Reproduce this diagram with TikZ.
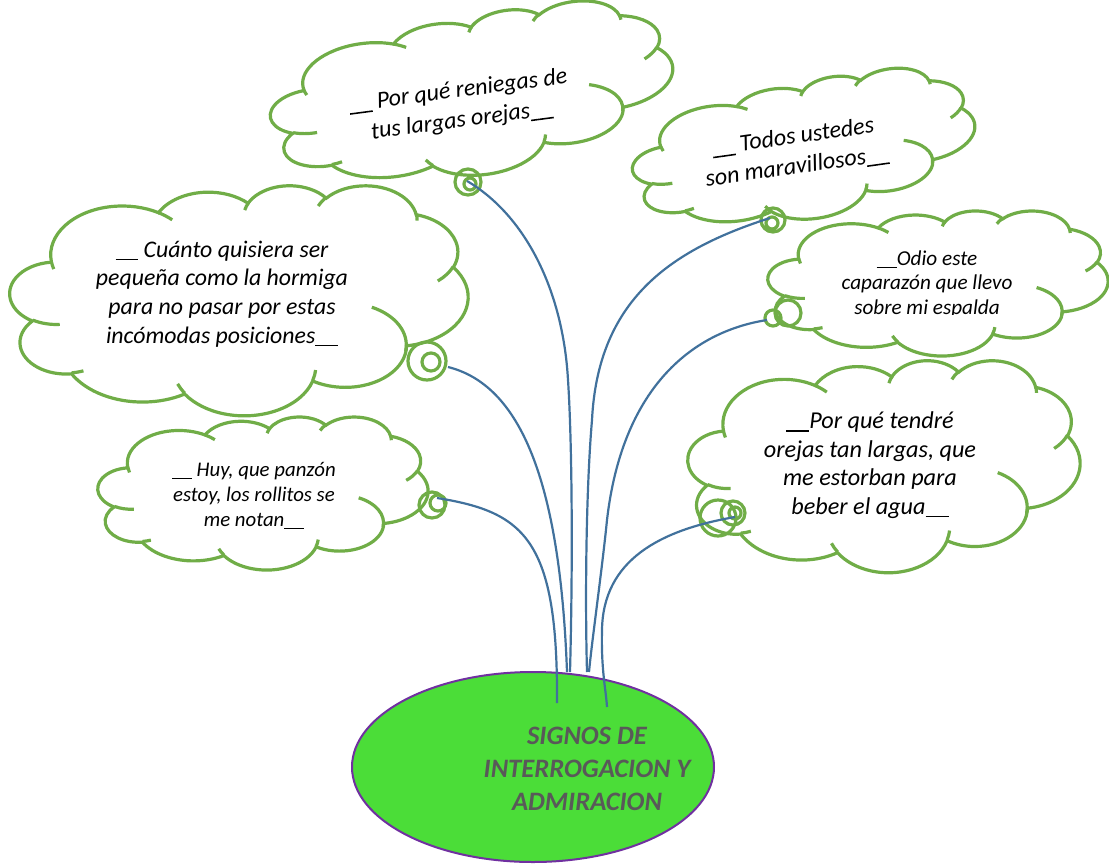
\documentclass[tikz,border=0pt]{standalone}
\usepackage{fontspec}
\setmainfont{Carlito}
\usetikzlibrary{shapes.geometric}
\definecolor{leafgreen}{RGB}{112,173,71}
\definecolor{twigblue}{RGB}{65,113,156}
\definecolor{topicgreen}{RGB}{75,221,56}
\definecolor{topicrim}{RGB}{112,48,160}
\definecolor{topicgray}{RGB}{89,89,89}

% angle on the ellipse -> arc parameter
\newcommand\pang[3]{(atan2((#1)*sin(#3),(#2)*cos(#3))+360*round(((#3)-atan2((#1)*sin(#3),(#2)*cos(#3)))/360))}
\newcommand\carc[4]{arc[x radius=#1,y radius=#2,start angle={\pang{#1}{#2}{#3}},end angle={\pang{#1}{#2}{(#3)+(#4)}}]}
\newcommand\guion{\rule[-0.13em]{0.95em}{0.065em}}

\tikzset{
  cloudline/.style={leafgreen,line width=1.6pt},
  twig/.style={twigblue,line width=1.1pt},
  saytext/.style={align=center,inner sep=0pt},
  pics/wordcloud/.style={code={
    \begin{scope}[yscale=-1,shift={(-21.6,-21.6)}]
      \filldraw[cloudline,fill=white] (3.900,14.370)
        \carc{6.753}{9.190}{-190.4875}{123.7805}
        \carc{5.333}{7.267}{-144.1024}{89.9452}
        \carc{4.365}{5.945}{-145.8079}{99.7230}
        \carc{4.857}{6.595}{-130.9861}{117.2417}
        \carc{5.333}{7.273}{-78.7089}{109.0269}
        \carc{6.775}{9.220}{-46.2673}{130.2690}
        \carc{5.785}{7.867}{0.6250}{114.0333}
        \carc{6.752}{9.215}{22.4624}{115.1726}
        \carc{7.720}{10.543}{66.2426}{75.7110}
        \carc{4.360}{5.918}{-274.9421}{146.7356}
        \carc{4.345}{5.945}{-246.8285}{152.5189} -- cycle;
      \draw[cloudline]
        (4.693,26.177) \carc{4.345}{5.945}{86.7420}{26.4295}
        (6.928,34.899) \carc{4.360}{5.918}{73.6105}{11.4475}
        (16.478,39.090) \carc{6.752}{9.215}{137.6242}{14.0811}
        (28.827,34.751) \carc{6.752}{9.215}{6.4533}{15.9984}
        (34.129,22.954) \carc{5.785}{7.867}{-70.2924}{81.5747}
        (41.798,15.354) \carc{5.333}{7.273}{30.3180}{27.7515}
        (38.324,5.426) \carc{4.857}{6.595}{-13.7443}{14.8589}
        (29.078,3.952) \carc{4.857}{6.595}{-149.1815}{18.1954}
        (22.141,4.720) \carc{4.365}{5.945}{-163.4943}{17.6864}
        (14.000,5.192) \carc{6.753}{9.190}{-66.7070}{12.3194}
        (4.127,15.789) \carc{6.753}{9.190}{157.6544}{11.8582};
    \end{scope}
  }},
}

\begin{document}
\begin{tikzpicture}[x=0.5pt,y=0.5pt]
  \useasboundingbox (0,0) rectangle (1109,-863);
  % clouds
  \pic[rotate=7.5,xscale=405/43.2,yscale=160/43.2] (orejas) at (472,-95) {wordcloud};
  \pic[rotate=8,xscale=345/43.2,yscale=138/43.2] (todos) at (804,-150) {wordcloud};
  \pic[xscale=458/43.2,yscale=230/43.2] (hormiga) at (239,-300) {wordcloud};
  \pic[xscale=340/43.2,yscale=145/43.2] (caparazon) at (938,-283) {wordcloud};
  \pic[xscale=330/43.2,yscale=153/43.2] (panzon) at (263,-493) {wordcloud};
  \pic[xscale=392/43.2,yscale=212/43.2] (agua) at (884,-466) {wordcloud};
  % bubbles of the clouds
  \draw[cloudline] (468,-182) circle[radius=13] (470,-184) circle[radius=6];
  \draw[cloudline] (773,-220) circle[radius=12] (772,-223) circle[radius=6];
  \draw[cloudline] (427,-361) circle[radius=19] (431,-362) circle[radius=9];
  \draw[cloudline] (773,-318) circle[radius=8] (788,-313) circle[radius=13];
  \draw[cloudline] (432,-505) circle[radius=13] (438,-503) circle[radius=8];
  \draw[cloudline] (718,-518) circle[radius=18] (733,-513) circle[radius=12] (735,-513) circle[radius=6];
  \coordinate (s1) at (467,-181);
  \coordinate (s2) at (770,-218);
  \coordinate (s3) at (448,-367);
  \coordinate (s4) at (767,-320);
  \coordinate (s5) at (437,-498);
  \coordinate (s6) at (735,-517);
  % topic
  \node[ellipse,draw=topicrim,line width=1pt,fill=topicgreen,minimum width=181pt,minimum height=95pt] (topic) at (533,-767) {};
  \node[saytext,text=topicgray,font=\bfseries\itshape\fontsize{13.3}{16.5}\selectfont] (topictext) at (587,-769)
    {SIGNOS DE\\INTERROGACION Y\\ADMIRACION};
  \coordinate (r1) at (557,-703);
  \coordinate (r2) at (567,-672);
  \coordinate (r3) at (570,-672);
  \coordinate (r4) at (587,-672);
  \coordinate (r5) at (589,-672);
  \coordinate (r6) at (607,-707);
  % twigs
  \draw[twig] (s5) .. controls (525,-512) and (558,-540) .. (r1);
  \draw[twig] (s3) .. controls (520,-385) and (560,-480) .. (r2);
  \draw[twig] (s1) .. controls (525,-215) and (563,-290) .. (568,-380)
    .. controls (572,-440) and (573,-560) .. (r3);
  \draw[twig] (s2) .. controls (670,-250) and (598,-300) .. (592,-420)
    .. controls (586,-490) and (585,-600) .. (r4);
  \draw[twig] (s4) .. controls (690,-332) and (622,-390) .. (607,-520)
    .. controls (602,-570) and (592,-640) .. (r5);
  \draw[twig] (s6) .. controls (660,-530) and (603,-560) .. (602,-630)
    .. controls (601,-670) and (606,-690) .. (r6);
  % texts
  \node[saytext,rotate=7.5,font=\itshape\fontsize{12}{15}\selectfont] (t1) at (460,-106)
    {\guion\ Por qué reniegas de\\tus largas orejas\guion};
  \node[saytext,rotate=8,font=\itshape\fontsize{12}{15}\selectfont] (t2) at (795,-152)
    {\guion\ Todos ustedes\\son maravillosos\guion};
  \node[saytext,font=\itshape\fontsize{11.9}{14.3}\selectfont] (t3) at (222,-294)
    {\guion\ Cuánto quisiera ser\\pequeña como la hormiga\\para no pasar por estas\\incómodas posiciones\guion};
  \begin{scope}
    \clip (760,-205) rectangle (1100,-314);
    \node[saytext,font=\itshape\fontsize{10.6}{12.25}\selectfont] (t4) at (927,-284)
      {\guion Odio este\\caparazón que llevo\\sobre mi espalda};
  \end{scope}
  \node[saytext,font=\itshape\fontsize{10.4}{12.5}\selectfont] (t5) at (254,-496)
    {\guion\ Huy, que panzón\\estoy, los rollitos se\\me notan\guion};
  \node[saytext,font=\itshape\fontsize{12.1}{14.3}\selectfont] (t6) at (870,-465)
    {\guion Por qué tendré\\orejas tan largas, que\\me estorban para\\beber el agua\guion};
\end{tikzpicture}
\end{document}
